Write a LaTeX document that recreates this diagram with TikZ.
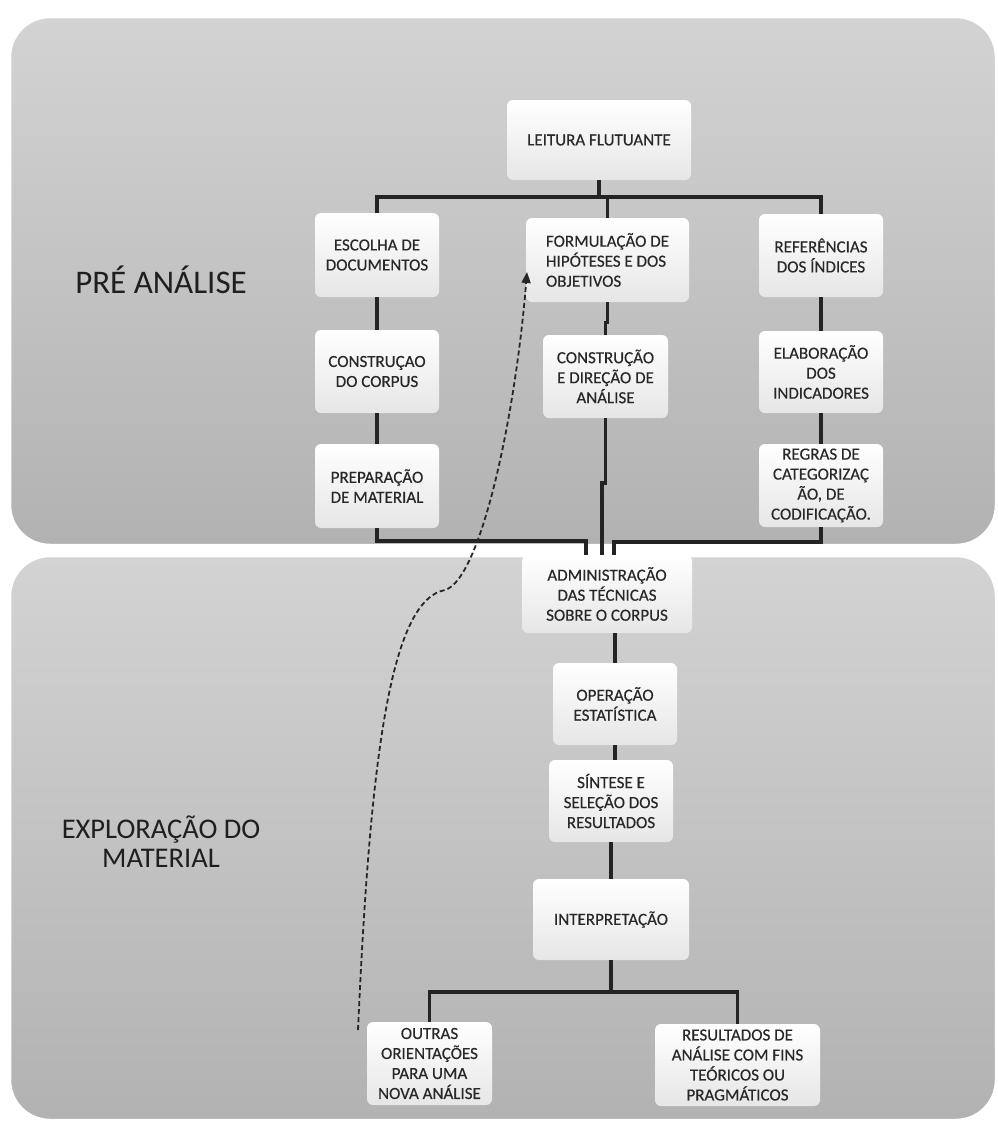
\documentclass[tikz,border=0pt]{standalone}
\usepackage{fontspec}
\setmainfont{Carlito}
\newfontfamily\boxfont[FakeBold=0.35]{Carlito}
\usetikzlibrary{arrows.meta}
\definecolor{paneltop}{RGB}{211,211,211}
\definecolor{panelbot}{RGB}{178,178,178}
\definecolor{boxbot}{RGB}{230,230,230}
\definecolor{ink}{RGB}{40,40,40}
\definecolor{wire}{RGB}{36,36,36}
\begin{document}
\begin{tikzpicture}[x=1pt,y=-1pt,
  panel/.style={draw=white,line width=2.5pt,rounded corners=40pt,
    top color=paneltop,bottom color=panelbot},
  stepbox/.style={rounded corners=6pt,top color=white,bottom color=boxbot,
    inner sep=0pt,align=center,text=ink,font=\boxfont\fontsize{17}{20}\selectfont},
  stagelabel/.style={align=center,text=black!88},
  wire/.style={draw=wire,line width=3.2pt},
  stem/.style={wire,line width=4.6pt},
  loopback/.style={draw=black!85,line width=1.8pt,dash pattern=on 5pt off 3pt,
    -{Triangle[length=11pt,width=9pt]}}]
\useasboundingbox (0,0) rectangle (998,1122);
\fill[white] (0,0) rectangle (998,1122);

% the two stage panels
\path[panel] (10,17) rectangle (996,545);
\path[panel] (10,556) rectangle (996,1120);

% stage titles
\node[stagelabel,font=\fontsize{33}{29}\selectfont] (pre) at (161,280) {PRÉ ANÁLISE};
\node[stagelabel,font=\fontsize{28.5}{29}\selectfont] (expl) at (161,842) {EXPLORAÇÃO DO\\MATERIAL};

% steps of the pre-analysis
\node[stepbox,minimum width=184,minimum height=80] (lf) at (599,140) {LEITURA FLUTUANTE};
\node[stepbox,minimum width=124,minimum height=84] (esc) at (377,255) {ESCOLHA DE\\DOCUMENTOS};
\node[stepbox,minimum width=163,minimum height=84,align=left] (form) at (607.5,260) {FORMULAÇÃO DE\\HIPÓTESES E DOS\\OBJETIVOS};
\node[stepbox,minimum width=124,minimum height=83] (ref) at (821,255.5) {REFERÊNCIAS\\DOS ÍNDICES};
\node[stepbox,minimum width=124,minimum height=83] (cons) at (377,371.5) {CONSTRUÇAO\\DO CORPUS};
\node[stepbox,minimum width=125,minimum height=83] (dir) at (605.5,376.5) {CONSTRUÇÃO\\E DIREÇÃO DE\\ANÁLISE};
\node[stepbox,minimum width=124,minimum height=82] (elab) at (821,372) {ELABORAÇÃO\\DOS\\INDICADORES};
\node[stepbox,minimum width=124,minimum height=84] (prep) at (377,486) {PREPARAÇÃO\\DE MATERIAL};
\node[stepbox,minimum width=124,minimum height=83] (regras) at (821,485.5) {REGRAS DE\\CATEGORIZAÇ\\ÃO, DE\\CODIFICAÇÃO.};

% steps of the exploration
\node[stepbox,minimum width=170,minimum height=78] (adm) at (607,594) {ADMINISTRAÇÃO\\DAS TÉCNICAS\\SOBRE O CORPUS};
\node[stepbox,minimum width=124,minimum height=82] (oper) at (615,704) {OPERAÇÃO\\ESTATÍSTICA};
\node[stepbox,minimum width=124,minimum height=82] (sint) at (611,801) {SÍNTESE E\\SELEÇÃO DOS\\RESULTADOS};
\node[stepbox,minimum width=156,minimum height=81] (interp) at (611,919.5) {INTERPRETAÇÃO};
\node[stepbox,minimum width=125,minimum height=83] (outras) at (429.5,1063.5) {OUTRAS\\ORIENTAÇÕES\\PARA UMA\\NOVA ANÁLISE};
\node[stepbox,minimum width=165,minimum height=82] (result) at (737.5,1065) {RESULTADOS DE\\ANÁLISE COM FINS\\TEÓRICOS OU\\PRAGMÁTICOS};

% branch points
\coordinate (hbar) at (599,197);
\coordinate (lb) at (586,541);
\coordinate (rb) at (614,542);
\coordinate (mj) at (602,483);
\coordinate (lbar) at (611,992);

% top tree
\draw[stem] (lf.south) -- (hbar);
\draw[wire] (esc.north) |- (hbar) -| (ref.north);
\draw[wire] (hbar) -| (form.north);

% columns
\draw[wire] (esc.south) -- (cons.north);
\draw[wire] (cons.south) -- (prep.north);
\draw[wire] (ref.south) -- (elab.north);
\draw[wire] (elab.south) -- (regras.north);
\draw[wire] (form.south) -- ++(0,20) -| (dir.north);
\draw[wire] (dir.south) |- (mj) -- (mj |- adm.north);

% brackets into the exploration stage
\draw[wire] (prep.south) |- (lb) -- (lb |- adm.north);
\draw[wire] (regras.south) |- (rb) -- (rb |- adm.north);

% lower chain
\draw[wire] (adm.south -| oper.north) -- (oper.north);
\draw[wire] (oper.south) -- (oper.south |- sint.north);
\draw[wire] (sint.south) -- (interp.north);
\draw[stem] (interp.south) -- (lbar);
\draw[wire] (outras.north) |- (lbar) -| (result.north);

% feedback loop to the hypotheses
\coordinate (dstart) at (358,1030);
\coordinate (shoulder) at (445,590);
\coordinate (dtip) at (527,272);
\draw[loopback] (dstart) .. controls (370,760) and (390,600) .. (shoulder)
  .. controls (480,580) and (515,420) .. (dtip);
\end{tikzpicture}
\end{document}
